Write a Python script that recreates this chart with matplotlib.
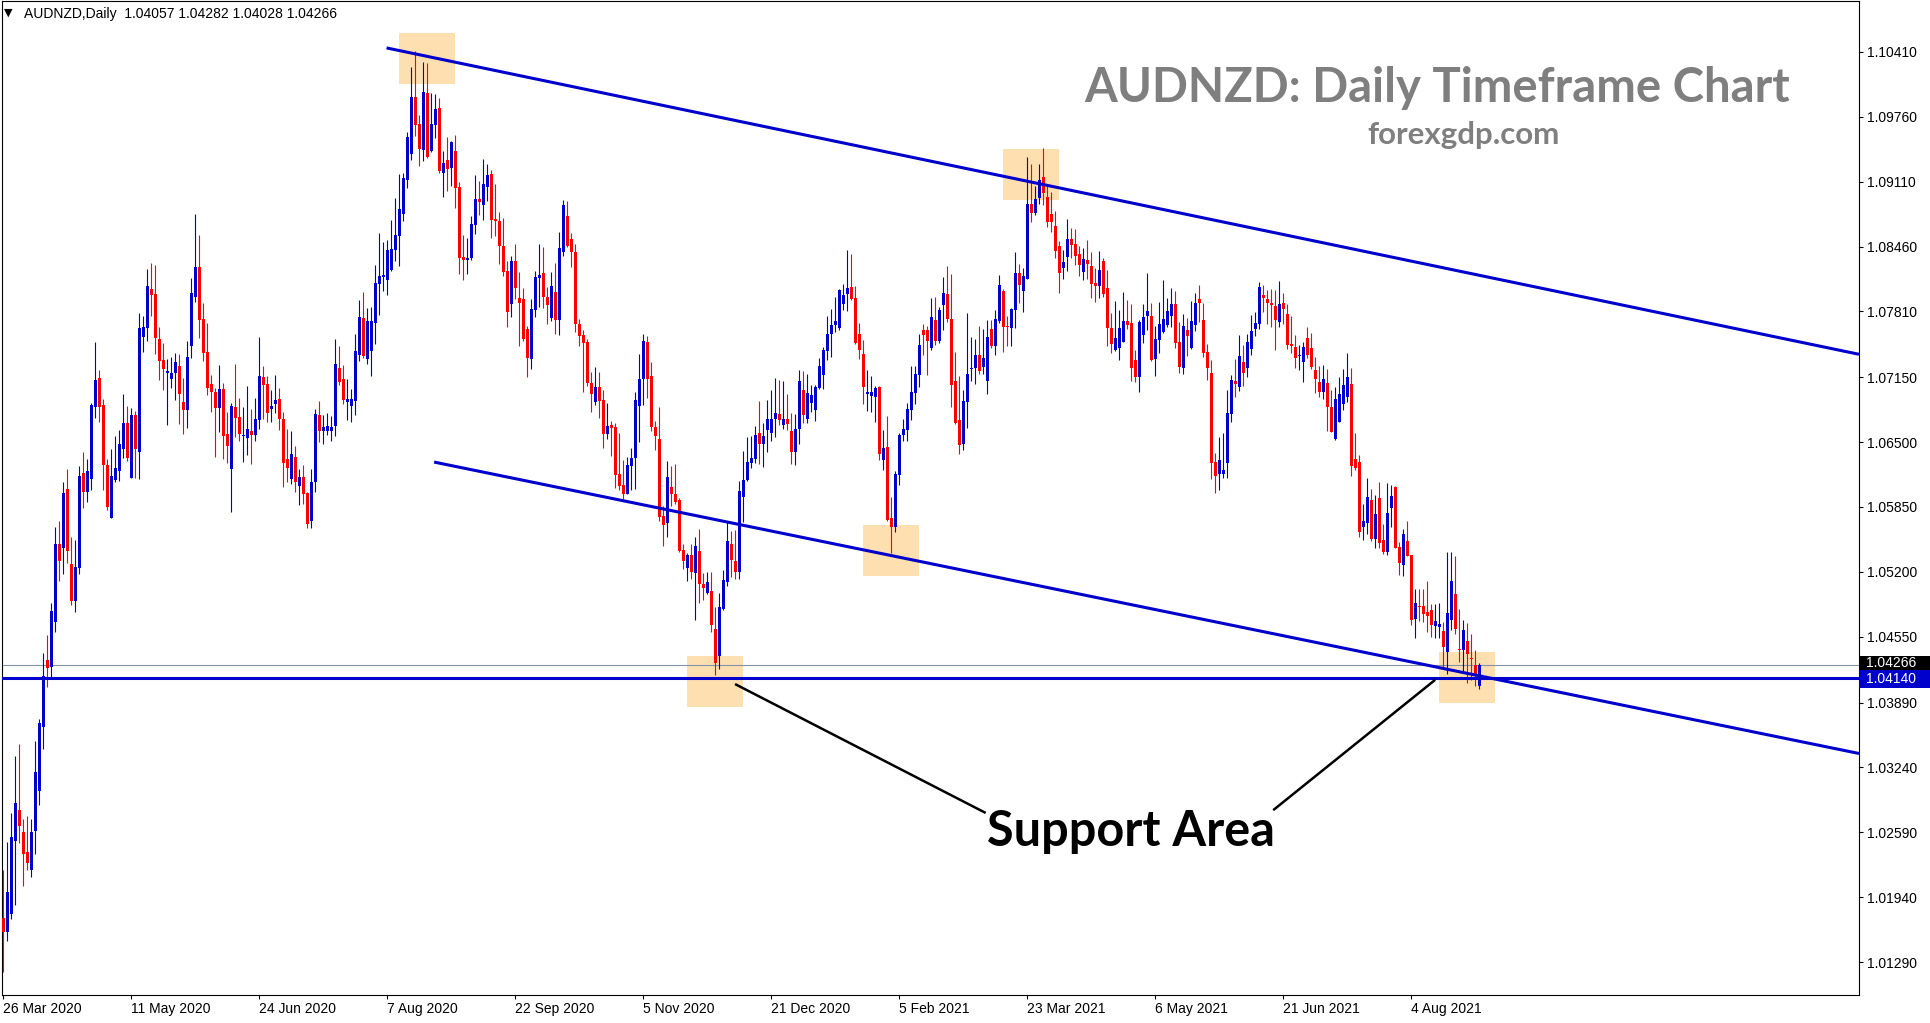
import matplotlib.pyplot as plt
import matplotlib.patches as mpatches
import matplotlib.transforms as mtransforms
import numpy as np

plt.rcParams['font.family'] = ['Liberation Sans', 'DejaVu Sans']

# AUDNZD daily candles, 26 Mar 2020 -> Aug 2021
open_px = [
    1.0173, 1.0159, 1.0177, 1.0250, 1.0281, 1.0259, 1.0239, 1.0221, 1.0260, 1.0300,
    1.0365, 1.0432, 1.0425, 1.0470, 1.0548, 1.0544, 1.0603, 1.0528, 1.0491, 1.0524,
    1.0619, 1.0600, 1.0613, 1.0685, 1.0714, 1.0687, 1.0627, 1.0574, 1.0612, 1.0621,
    1.0643, 1.0669, 1.0614, 1.0677, 1.0640, 1.0755, 1.0764, 1.0803, 1.0798, 1.0753,
    1.0732, 1.0719, 1.0713, 1.0719, 1.0726, 1.0690, 1.0682, 1.0746, 1.0795, 1.0825,
    1.0773, 1.0740, 1.0708, 1.0700, 1.0684, 1.0703, 1.0658, 1.0623, 1.0685, 1.0675,
    1.0656, 1.0654, 1.0661, 1.0657, 1.0672, 1.0715, 1.0708, 1.0683, 1.0688, 1.0693,
    1.0673, 1.0633, 1.0613, 1.0635, 1.0606, 1.0615, 1.0599, 1.0571, 1.0610, 1.0677,
    1.0661, 1.0661, 1.0661, 1.0666, 1.0724, 1.0713, 1.0690, 1.0686, 1.0691, 1.0737,
    1.0774, 1.0733, 1.0741, 1.0769, 1.0808, 1.0815, 1.0812, 1.0822, 1.0842, 1.0857,
    1.0879, 1.0913, 1.0939, 1.0996, 1.0969, 1.0943, 1.1000, 1.0942, 1.0968, 1.0985,
    1.0920, 1.0933, 1.0925, 1.0942, 1.0906, 1.0835, 1.0832, 1.0834, 1.0868, 1.0894,
    1.0888, 1.0906, 1.0919, 1.0874, 1.0872, 1.0847, 1.0821, 1.0788, 1.0831, 1.0794,
    1.0793, 1.0763, 1.0733, 1.0782, 1.0814, 1.0819, 1.0795, 1.0774, 1.0800, 1.0772,
    1.0840, 1.0877, 1.0854, 1.0840, 1.0768, 1.0757, 1.0750, 1.0709, 1.0690, 1.0705,
    1.0692, 1.0658, 1.0667, 1.0665, 1.0618, 1.0607, 1.0598, 1.0626, 1.0634, 1.0686,
    1.0713, 1.0750, 1.0716, 1.0665, 1.0653, 1.0576, 1.0569, 1.0605, 1.0598, 1.0592,
    1.0542, 1.0524, 1.0537, 1.0519, 1.0541, 1.0508, 1.0499, 1.0501, 1.0463, 1.0436,
    1.0483, 1.0510, 1.0548, 1.0531, 1.0520, 1.0595, 1.0612, 1.0629, 1.0633, 1.0659,
    1.0648, 1.0662, 1.0659, 1.0673, 1.0678, 1.0667, 1.0673, 1.0661, 1.0640, 1.0663,
    1.0702, 1.0673, 1.0689, 1.0682, 1.0704, 1.0717, 1.0741, 1.0758, 1.0767, 1.0764,
    1.0788, 1.0798, 1.0805, 1.0794, 1.0758, 1.0738, 1.0698, 1.0696, 1.0695, 1.0705,
    1.0632, 1.0645, 1.0574, 1.0565, 1.0617, 1.0657, 1.0662, 1.0682, 1.0699, 1.0717,
    1.0762, 1.0762, 1.0744, 1.0772, 1.0751, 1.0787, 1.0798, 1.0773, 1.0711, 1.0672,
    1.0648, 1.0690, 1.0723, 1.0724, 1.0737, 1.0725, 1.0711, 1.0763, 1.0746, 1.0771,
    1.0801, 1.0766, 1.0764, 1.0782, 1.0819, 1.0801, 1.0813, 1.0889, 1.0880, 1.0895,
    1.0916, 1.0896, 1.0879, 1.0867, 1.0847, 1.0824, 1.0835, 1.0854, 1.0849, 1.0838,
    1.0820, 1.0832, 1.0826, 1.0809, 1.0806, 1.0831, 1.0804, 1.0764, 1.0742, 1.0744,
    1.0750, 1.0771, 1.0769, 1.0732, 1.0715, 1.0757, 1.0776, 1.0776, 1.0733, 1.0752,
    1.0760, 1.0767, 1.0776, 1.0788, 1.0750, 1.0724, 1.0762, 1.0744, 1.0767, 1.0793,
    1.0772, 1.0740, 1.0719, 1.0630, 1.0618, 1.0618, 1.0629, 1.0678, 1.0711, 1.0705,
    1.0730, 1.0724, 1.0743, 1.0763, 1.0768, 1.0797, 1.0793, 1.0789, 1.0786, 1.0770,
    1.0789, 1.0778, 1.0748, 1.0745, 1.0736, 1.0730, 1.0754, 1.0744, 1.0722, 1.0710,
    1.0700, 1.0709, 1.0685, 1.0653, 1.0670, 1.0688, 1.0695, 1.0708, 1.0633, 1.0630,
    1.0565, 1.0569, 1.0592, 1.0553, 1.0594, 1.0552, 1.0540, 1.0584, 1.0605, 1.0545,
    1.0527, 1.0551, 1.0537, 1.0473, 1.0486, 1.0486, 1.0480, 1.0482, 1.0466, 1.0465,
    1.0461, 1.0440, 1.0472, 1.0498, 1.0443, 1.0442, 1.0451, 1.0434, 1.0427, 1.04057,
]
high_px = [
    1.0221, 1.0249, 1.0278, 1.0335, 1.0348, 1.0272, 1.0275, 1.0272, 1.0351, 1.0373,
    1.0439, 1.0457, 1.0489, 1.0565, 1.0571, 1.0610, 1.0623, 1.0555, 1.0552, 1.0626,
    1.0640, 1.0633, 1.0689, 1.0750, 1.0722, 1.0693, 1.0633, 1.0643, 1.0656, 1.0662,
    1.0698, 1.0686, 1.0684, 1.0681, 1.0779, 1.0776, 1.0823, 1.0829, 1.0827, 1.0765,
    1.0749, 1.0733, 1.0735, 1.0739, 1.0738, 1.0714, 1.0751, 1.0814, 1.0879, 1.0858,
    1.0789, 1.0769, 1.0717, 1.0704, 1.0727, 1.0709, 1.0680, 1.0689, 1.0728, 1.0694,
    1.0685, 1.0706, 1.0683, 1.0694, 1.0755, 1.0726, 1.0716, 1.0702, 1.0717, 1.0704,
    1.0680, 1.0663, 1.0661, 1.0646, 1.0623, 1.0627, 1.0600, 1.0623, 1.0683, 1.0691,
    1.0677, 1.0679, 1.0676, 1.0753, 1.0746, 1.0727, 1.0713, 1.0703, 1.0758, 1.0792,
    1.0800, 1.0784, 1.0785, 1.0827, 1.0860, 1.0851, 1.0853, 1.0873, 1.0895, 1.0919,
    1.0920, 1.0961, 1.1026, 1.1042, 1.0978, 1.1031, 1.1030, 1.1000, 1.0999, 1.0995,
    1.0942, 1.0956, 1.0952, 1.0958, 1.0911, 1.0858, 1.0855, 1.0877, 1.0918, 1.0912,
    1.0934, 1.0929, 1.0923, 1.0909, 1.0881, 1.0875, 1.0831, 1.0836, 1.0849, 1.0820,
    1.0804, 1.0766, 1.0793, 1.0821, 1.0849, 1.0846, 1.0805, 1.0820, 1.0829, 1.0861,
    1.0893, 1.0892, 1.0860, 1.0849, 1.0773, 1.0762, 1.0753, 1.0720, 1.0725, 1.0720,
    1.0702, 1.0689, 1.0671, 1.0669, 1.0659, 1.0632, 1.0635, 1.0644, 1.0700, 1.0738,
    1.0758, 1.0756, 1.0730, 1.0671, 1.0685, 1.0586, 1.0631, 1.0626, 1.0628, 1.0594,
    1.0548, 1.0539, 1.0548, 1.0555, 1.0563, 1.0519, 1.0520, 1.0520, 1.0485, 1.0499,
    1.0522, 1.0570, 1.0561, 1.0562, 1.0611, 1.0641, 1.0655, 1.0656, 1.0666, 1.0691,
    1.0669, 1.0692, 1.0702, 1.0714, 1.0712, 1.0711, 1.0698, 1.0679, 1.0678, 1.0722,
    1.0721, 1.0718, 1.0707, 1.0707, 1.0734, 1.0745, 1.0776, 1.0783, 1.0795, 1.0803,
    1.0808, 1.0842, 1.0838, 1.0806, 1.0769, 1.0752, 1.0722, 1.0716, 1.0706, 1.0706,
    1.0662, 1.0676, 1.0595, 1.0621, 1.0659, 1.0673, 1.0689, 1.0726, 1.0726, 1.0758,
    1.0768, 1.0766, 1.0794, 1.0795, 1.0785, 1.0815, 1.0826, 1.0818, 1.0740, 1.0716,
    1.0702, 1.0779, 1.0755, 1.0753, 1.0766, 1.0763, 1.0772, 1.0772, 1.0782, 1.0817,
    1.0803, 1.0776, 1.0784, 1.0840, 1.0828, 1.0824, 1.0936, 1.0929, 1.0907, 1.0929,
    1.0945, 1.0908, 1.0901, 1.0882, 1.0852, 1.0843, 1.0874, 1.0865, 1.0864, 1.0847,
    1.0845, 1.0853, 1.0840, 1.0824, 1.0841, 1.0834, 1.0822, 1.0779, 1.0791, 1.0782,
    1.0800, 1.0792, 1.0788, 1.0742, 1.0772, 1.0788, 1.0819, 1.0789, 1.0766, 1.0790,
    1.0812, 1.0794, 1.0804, 1.0801, 1.0770, 1.0778, 1.0774, 1.0791, 1.0799, 1.0807,
    1.0789, 1.0748, 1.0732, 1.0639, 1.0655, 1.0659, 1.0702, 1.0717, 1.0733, 1.0757,
    1.0747, 1.0758, 1.0777, 1.0780, 1.0810, 1.0807, 1.0802, 1.0803, 1.0802, 1.0811,
    1.0799, 1.0788, 1.0776, 1.0757, 1.0747, 1.0750, 1.0765, 1.0759, 1.0735, 1.0726,
    1.0727, 1.0723, 1.0702, 1.0705, 1.0715, 1.0723, 1.0739, 1.0724, 1.0659, 1.0637,
    1.0588, 1.0614, 1.0603, 1.0597, 1.0610, 1.0568, 1.0609, 1.0607, 1.0606, 1.0550,
    1.0563, 1.0571, 1.0537, 1.0503, 1.0503, 1.0503, 1.0511, 1.0488, 1.0488, 1.0489,
    1.0470, 1.0540, 1.0540, 1.0536, 1.0483, 1.0472, 1.0469, 1.0458, 1.0442, 1.04282,
]
low_px = [
    1.0119, 1.0150, 1.0172, 1.0186, 1.0248, 1.0205, 1.0221, 1.0214, 1.0237, 1.0286,
    1.0342, 1.0405, 1.0415, 1.0460, 1.0511, 1.0518, 1.0529, 1.0487, 1.0480, 1.0518,
    1.0584, 1.0590, 1.0602, 1.0674, 1.0670, 1.0602, 1.0582, 1.0574, 1.0610, 1.0611,
    1.0634, 1.0631, 1.0614, 1.0614, 1.0613, 1.0740, 1.0751, 1.0776, 1.0738, 1.0712,
    1.0702, 1.0667, 1.0704, 1.0692, 1.0668, 1.0658, 1.0664, 1.0734, 1.0790, 1.0754,
    1.0731, 1.0697, 1.0680, 1.0635, 1.0660, 1.0633, 1.0629, 1.0580, 1.0655, 1.0651,
    1.0630, 1.0637, 1.0628, 1.0651, 1.0663, 1.0673, 1.0670, 1.0670, 1.0679, 1.0662,
    1.0605, 1.0610, 1.0608, 1.0600, 1.0587, 1.0588, 1.0564, 1.0564, 1.0600, 1.0650,
    1.0648, 1.0657, 1.0651, 1.0656, 1.0707, 1.0688, 1.0672, 1.0670, 1.0677, 1.0731,
    1.0734, 1.0728, 1.0716, 1.0748, 1.0777, 1.0801, 1.0797, 1.0821, 1.0831, 1.0826,
    1.0872, 1.0905, 1.0933, 1.0957, 1.0927, 1.0932, 1.0935, 1.0941, 1.0955, 1.0920,
    1.0896, 1.0902, 1.0907, 1.0885, 1.0818, 1.0812, 1.0818, 1.0832, 1.0859, 1.0878,
    1.0873, 1.0892, 1.0855, 1.0857, 1.0828, 1.0816, 1.0765, 1.0775, 1.0793, 1.0746,
    1.0751, 1.0715, 1.0723, 1.0775, 1.0785, 1.0784, 1.0768, 1.0771, 1.0758, 1.0757,
    1.0836, 1.0846, 1.0825, 1.0760, 1.0746, 1.0700, 1.0706, 1.0680, 1.0687, 1.0674,
    1.0644, 1.0653, 1.0636, 1.0604, 1.0602, 1.0593, 1.0598, 1.0602, 1.0603, 1.0650,
    1.0687, 1.0694, 1.0661, 1.0642, 1.0571, 1.0546, 1.0555, 1.0586, 1.0588, 1.0540,
    1.0523, 1.0511, 1.0513, 1.0472, 1.0489, 1.0492, 1.0498, 1.0460, 1.0417, 1.0423,
    1.0482, 1.0506, 1.0515, 1.0513, 1.0513, 1.0570, 1.0611, 1.0624, 1.0629, 1.0628,
    1.0625, 1.0640, 1.0651, 1.0655, 1.0667, 1.0663, 1.0662, 1.0628, 1.0627, 1.0648,
    1.0669, 1.0669, 1.0680, 1.0671, 1.0703, 1.0703, 1.0732, 1.0735, 1.0760, 1.0762,
    1.0782, 1.0781, 1.0792, 1.0748, 1.0733, 1.0688, 1.0681, 1.0680, 1.0670, 1.0632,
    1.0622, 1.0571, 1.0539, 1.0560, 1.0607, 1.0651, 1.0651, 1.0672, 1.0688, 1.0705,
    1.0737, 1.0717, 1.0742, 1.0747, 1.0749, 1.0762, 1.0770, 1.0685, 1.0668, 1.0638,
    1.0642, 1.0664, 1.0711, 1.0708, 1.0718, 1.0718, 1.0698, 1.0744, 1.0737, 1.0769,
    1.0740, 1.0746, 1.0746, 1.0764, 1.0789, 1.0780, 1.0813, 1.0871, 1.0878, 1.0889,
    1.0888, 1.0866, 1.0861, 1.0834, 1.0799, 1.0813, 1.0821, 1.0834, 1.0827, 1.0816,
    1.0812, 1.0813, 1.0794, 1.0790, 1.0794, 1.0795, 1.0746, 1.0739, 1.0741, 1.0732,
    1.0750, 1.0763, 1.0711, 1.0710, 1.0700, 1.0749, 1.0762, 1.0731, 1.0716, 1.0739,
    1.0759, 1.0765, 1.0765, 1.0744, 1.0719, 1.0718, 1.0736, 1.0743, 1.0761, 1.0770,
    1.0735, 1.0712, 1.0613, 1.0599, 1.0602, 1.0614, 1.0614, 1.0670, 1.0695, 1.0701,
    1.0706, 1.0715, 1.0737, 1.0756, 1.0763, 1.0780, 1.0768, 1.0765, 1.0742, 1.0765,
    1.0768, 1.0743, 1.0739, 1.0724, 1.0722, 1.0710, 1.0734, 1.0723, 1.0699, 1.0695,
    1.0693, 1.0661, 1.0660, 1.0652, 1.0670, 1.0682, 1.0690, 1.0616, 1.0622, 1.0555,
    1.0552, 1.0558, 1.0551, 1.0544, 1.0544, 1.0538, 1.0537, 1.0565, 1.0544, 1.0517,
    1.0516, 1.0536, 1.0467, 1.0454, 1.0471, 1.0470, 1.0460, 1.0455, 1.0454, 1.0454,
    1.0423, 1.0418, 1.0462, 1.0458, 1.0430, 1.0421, 1.0409, 1.0412, 1.0406, 1.04028,
]
close_px = [
    1.0159, 1.0199, 1.0254, 1.0288, 1.0265, 1.0237, 1.0228, 1.0259, 1.0319, 1.0369,
    1.0416, 1.0424, 1.0481, 1.0548, 1.0531, 1.0599, 1.0541, 1.0491, 1.0525, 1.0616,
    1.0600, 1.0621, 1.0687, 1.0712, 1.0685, 1.0627, 1.0585, 1.0616, 1.0624, 1.0648,
    1.0669, 1.0634, 1.0677, 1.0643, 1.0764, 1.0765, 1.0806, 1.0797, 1.0754, 1.0731,
    1.0723, 1.0721, 1.0719, 1.0730, 1.0698, 1.0682, 1.0735, 1.0799, 1.0825, 1.0772,
    1.0739, 1.0704, 1.0700, 1.0684, 1.0703, 1.0656, 1.0646, 1.0686, 1.0674, 1.0658,
    1.0657, 1.0663, 1.0657, 1.0673, 1.0716, 1.0707, 1.0679, 1.0686, 1.0692, 1.0673,
    1.0629, 1.0624, 1.0638, 1.0610, 1.0615, 1.0598, 1.0568, 1.0610, 1.0678, 1.0661,
    1.0665, 1.0666, 1.0665, 1.0728, 1.0710, 1.0692, 1.0693, 1.0693, 1.0741, 1.0775,
    1.0736, 1.0771, 1.0771, 1.0809, 1.0816, 1.0817, 1.0843, 1.0844, 1.0858, 1.0884,
    1.0915, 1.0956, 1.0996, 1.0968, 1.0944, 1.1001, 1.0936, 1.0969, 1.0984, 1.0922,
    1.0930, 1.0924, 1.0951, 1.0905, 1.0834, 1.0832, 1.0834, 1.0869, 1.0894, 1.0891,
    1.0909, 1.0918, 1.0873, 1.0872, 1.0847, 1.0820, 1.0780, 1.0831, 1.0804, 1.0789,
    1.0753, 1.0734, 1.0783, 1.0815, 1.0817, 1.0795, 1.0787, 1.0806, 1.0772, 1.0845,
    1.0888, 1.0847, 1.0840, 1.0768, 1.0756, 1.0749, 1.0709, 1.0698, 1.0705, 1.0691,
    1.0658, 1.0666, 1.0664, 1.0617, 1.0606, 1.0598, 1.0627, 1.0634, 1.0692, 1.0713,
    1.0751, 1.0713, 1.0665, 1.0656, 1.0575, 1.0567, 1.0615, 1.0598, 1.0590, 1.0541,
    1.0531, 1.0537, 1.0520, 1.0546, 1.0508, 1.0504, 1.0510, 1.0467, 1.0429, 1.0485,
    1.0512, 1.0551, 1.0532, 1.0520, 1.0601, 1.0612, 1.0630, 1.0634, 1.0657, 1.0648,
    1.0656, 1.0673, 1.0673, 1.0679, 1.0672, 1.0673, 1.0668, 1.0640, 1.0663, 1.0711,
    1.0677, 1.0699, 1.0697, 1.0705, 1.0726, 1.0742, 1.0758, 1.0767, 1.0771, 1.0802,
    1.0797, 1.0804, 1.0793, 1.0749, 1.0742, 1.0705, 1.0700, 1.0700, 1.0704, 1.0638,
    1.0644, 1.0572, 1.0565, 1.0618, 1.0657, 1.0663, 1.0683, 1.0700, 1.0718, 1.0747,
    1.0757, 1.0751, 1.0775, 1.0751, 1.0782, 1.0799, 1.0773, 1.0707, 1.0669, 1.0647,
    1.0691, 1.0718, 1.0724, 1.0737, 1.0721, 1.0734, 1.0755, 1.0746, 1.0773, 1.0807,
    1.0765, 1.0765, 1.0783, 1.0819, 1.0807, 1.0816, 1.0889, 1.0880, 1.0894, 1.0913,
    1.0900, 1.0871, 1.0871, 1.0841, 1.0819, 1.0830, 1.0854, 1.0848, 1.0836, 1.0827,
    1.0833, 1.0828, 1.0808, 1.0806, 1.0822, 1.0798, 1.0764, 1.0748, 1.0754, 1.0764,
    1.0771, 1.0767, 1.0724, 1.0715, 1.0770, 1.0775, 1.0781, 1.0732, 1.0753, 1.0768,
    1.0773, 1.0781, 1.0788, 1.0749, 1.0725, 1.0766, 1.0756, 1.0771, 1.0789, 1.0789,
    1.0739, 1.0724, 1.0629, 1.0616, 1.0632, 1.0622, 1.0679, 1.0712, 1.0708, 1.0736,
    1.0719, 1.0750, 1.0761, 1.0769, 1.0805, 1.0794, 1.0789, 1.0787, 1.0772, 1.0788,
    1.0783, 1.0747, 1.0746, 1.0734, 1.0737, 1.0745, 1.0737, 1.0725, 1.0713, 1.0700,
    1.0713, 1.0685, 1.0660, 1.0693, 1.0698, 1.0707, 1.0715, 1.0626, 1.0624, 1.0560,
    1.0571, 1.0595, 1.0553, 1.0578, 1.0549, 1.0540, 1.0579, 1.0596, 1.0544, 1.0529,
    1.0558, 1.0536, 1.0472, 1.0489, 1.0485, 1.0478, 1.0476, 1.0467, 1.0471, 1.0468,
    1.0445, 1.0479, 1.0511, 1.0463, 1.0442, 1.0462, 1.0438, 1.0433, 1.0417, 1.04266,
]

# x axis: bar index of each date label
date_bars = [0, 32, 64, 96, 128, 160, 192, 224, 256, 288, 320, 352]
date_labels = ['26 Mar 2020', '11 May 2020', '24 Jun 2020', '7 Aug 2020', '22 Sep 2020',
               '5 Nov 2020', '21 Dec 2020', '5 Feb 2021', '23 Mar 2021', '6 May 2021',
               '21 Jun 2021', '4 Aug 2021']
price_ticks = [1.01290, 1.01940, 1.02590, 1.03240, 1.03890, 1.04550, 1.05200, 1.05850,
               1.06500, 1.07150, 1.07810, 1.08460, 1.09110, 1.09760, 1.10410]

# drawn objects (bar index, price)
upper_x = [95.8, 463.9]
upper_y = [1.1045, 1.0738]
lower_x = [107.7, 463.9]
lower_y = [1.0630, 1.0338]
support_level = 1.04140
bid_price = close_px[-1]

zone_bar = [105.9, 256.9, 221.9, 177.9, 365.9]
zone_price = [1.1034, 1.0918, 1.0541, 1.0410, 1.0414]

pointer_x = [[183.2, 245.3], [317.7, 357.7]]
pointer_y = [[1.0407, 1.0279], [1.0282, 1.0411]]

BULL = '#0000CD'
BEAR = '#FF0000'
LINE_BLUE = '#0000CD'
ZONE = '#FDDFB0'

W, H = 1930, 1023
fig = plt.figure(figsize=(W / 100, H / 100), dpi=100)
ax = fig.add_axes([2 / W, 28 / H, 1857 / W, 994 / H])

o = np.array(open_px)
hi = np.array(high_px)
lo = np.array(low_px)
c = np.array(close_px)
x = np.arange(len(c))
cols = np.where(c >= o, BULL, BEAR)

# candles
ax.vlines(x, lo, hi, colors=cols, lw=0.8, zorder=3)
body = np.maximum(np.abs(c - o), 0.0001)
ax.bar(x, body, width=0.78, bottom=np.minimum(o, c), color=cols, lw=0, zorder=4)

# highlighted zones
for zb, zp in zip(zone_bar, zone_price):
    ax.add_patch(mpatches.Rectangle((zb - 7, zp - 0.00255), 14, 0.0051,
                                    facecolor=ZONE, edgecolor='none', zorder=1))

# channel + support
ax.plot(upper_x, upper_y, color=LINE_BLUE, lw=2.2, zorder=5, solid_capstyle='butt')
ax.plot(lower_x, lower_y, color=LINE_BLUE, lw=2.2, zorder=5, solid_capstyle='butt')
ax.axhline(support_level, color=LINE_BLUE, lw=2.2, zorder=5)
ax.axhline(bid_price, color='#8494a4', lw=0.8, zorder=2)

for px, py in zip(pointer_x, pointer_y):
    ax.plot(px, py, color='black', lw=1.8, zorder=6)

ax.text(281.9, 1.0245, 'Support Area', family=['Lato', 'DejaVu Sans'], weight='bold',
        fontsize=35, color='black', ha='center', va='baseline', zorder=7)

ax.set_xlim(-0.33, 463.9)
ax.set_ylim(1.0096, 1.1092)

ax.set_xticks(date_bars)
ax.set_xticklabels(date_labels, fontsize=10)
for lbl in ax.get_xticklabels():
    lbl.set_horizontalalignment('left')
ax.tick_params(axis='x', direction='out', length=3, width=0.8, pad=2)

ax.yaxis.tick_right()
ax.set_yticks(price_ticks)
ax.set_yticklabels([f'{p:.5f}' for p in price_ticks], fontsize=10)
ax.tick_params(axis='y', direction='out', length=3, width=0.8, pad=3)

for sp in ax.spines.values():
    sp.set_color('black')
    sp.set_linewidth(0.8)

# price tags on the scale
tr = mtransforms.blended_transform_factory(ax.transAxes, ax.transData)
tag_w = 71 / 1857
ax.add_patch(mpatches.Rectangle((1.0, bid_price - 0.0005), tag_w, 0.0014, transform=tr,
                                facecolor='black', edgecolor='none', clip_on=False, zorder=8))
ax.add_patch(mpatches.Rectangle((1.0, support_level - 0.0010), tag_w, 0.00177, transform=tr,
                                facecolor=LINE_BLUE, edgecolor='none', clip_on=False, zorder=8))
ax.text(1.0 + 7 / 1857, bid_price + 0.0002, f'{bid_price:.5f}', transform=tr, color='white',
        fontsize=10, va='center', ha='left', zorder=9)
ax.text(1.0 + 7 / 1857, support_level - 0.00012, f'{support_level:.5f}', transform=tr,
        color='white', fontsize=10, va='center', ha='left', zorder=9)

# header and watermark text
fig.text(4 / W, 1 - 13 / H, '\u25bc', family='DejaVu Sans', fontsize=8, va='center', ha='left')
fig.text(24 / W, 1 - 14 / H,
         f'AUDNZD,Daily  {open_px[-1]:.5f} {high_px[-1]:.5f} {low_px[-1]:.5f} {close_px[-1]:.5f}',
         fontsize=10, va='center', ha='left')
fig.text(1437 / W, 1 - 102 / H, 'AUDNZD: Daily Timeframe Chart', family=['Lato', 'DejaVu Sans'],
         weight='bold', fontsize=34, color='#7f7f7f', ha='center', va='baseline')
fig.text(1464 / W, 1 - 144 / H, 'forexgdp.com', family=['Lato', 'DejaVu Sans'],
         weight='bold', fontsize=22.5, color='#7f7f7f', ha='center', va='baseline')

fig.savefig('out.png', dpi=100)
